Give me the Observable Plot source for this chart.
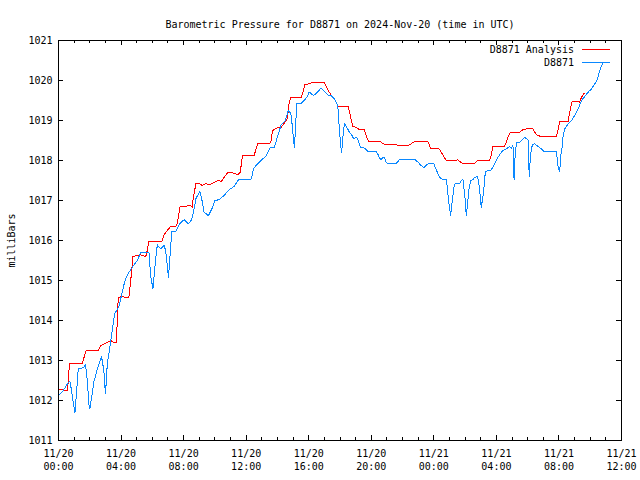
<!DOCTYPE html>
<html>
<head>
<meta charset="utf-8">
<script src="https://cdn.jsdelivr.net/npm/d3@7"></script>
<script src="https://cdn.jsdelivr.net/npm/@observablehq/plot@0.6"></script>
<style>
  html, body { margin: 0; padding: 0; background: #fff; }
  #wrap { position: relative; width: 640px; height: 480px; font-family: "DejaVu Sans Mono", monospace; font-size: 10px; color: #000; }
  .lg-text { position: absolute; right: 66px; line-height: 12px; white-space: pre; }
  .lg-line { position: absolute; left: 582px; width: 28px; height: 1px; }
</style>
</head>
<body>
<div id="wrap"></div>
<script>
// ---- data (hours after 2024-11-20 00:00 UTC, pressure in mb) ----
const titleText = "Barometric Pressure for D8871 on 2024-Nov-20 (time in UTC)";
const yLabel = "milliBars";
const seriesNames = ["D8871 Analysis", "D8871"];
const seriesColors = ["#ff0000", "#0a88ff"];

const analysisHours = [
  0.00, 0.28, 0.40, 0.56, 0.62, 0.70, 1.52, 1.77, 2.54, 2.69,
  3.01, 3.33, 3.59, 3.70, 3.82, 4.08, 4.29, 4.50, 4.61, 4.76,
  5.25, 5.53, 5.62, 5.78, 6.60, 6.75, 7.17, 7.50, 7.60, 7.77,
  8.46, 8.56, 8.60, 8.78, 9.03, 9.20, 9.42, 9.64, 9.85, 10.21,
  10.42, 10.59, 10.81, 11.13, 11.30, 11.49, 11.62, 11.77, 12.51, 12.73,
  13.47, 13.58, 13.69, 14.01, 14.22, 14.33, 14.61, 14.69, 14.75, 14.86,
  15.50, 15.61, 15.76, 16.03, 16.25, 16.99, 17.10, 17.31, 17.53, 17.64,
  17.81, 17.89, 18.53, 18.64, 18.75, 18.81, 19.03, 19.24, 19.56, 19.67,
  19.82, 20.58, 20.74, 20.88, 21.59, 21.70, 22.38, 22.55, 22.72, 22.87,
  23.62, 23.79, 24.30, 24.47, 24.79, 25.43, 25.54, 25.64, 25.86, 26.57,
  26.71, 26.82, 27.57, 27.67, 27.78, 28.53, 28.64, 28.74, 28.89, 29.49,
  29.70, 29.92, 30.35, 30.45, 30.56, 30.77, 30.99, 31.84, 31.95, 32.05,
  32.59, 32.69, 32.84, 33.18, 33.33, 33.44, 33.61
];
const analysisValues = [
  1012.28, 1012.28, 1012.25, 1012.25, 1012.46, 1012.93, 1012.93, 1013.25, 1013.25, 1013.375,
  1013.43, 1013.50, 1013.44, 1013.44, 1014.58, 1014.60, 1014.57, 1014.58, 1014.96, 1015.60,
  1015.64, 1015.60, 1015.64, 1015.975, 1015.975, 1016.15, 1016.35, 1016.35, 1016.43, 1016.85,
  1016.87, 1016.83, 1017.00, 1017.42, 1017.42, 1017.375, 1017.42, 1017.40, 1017.43, 1017.50,
  1017.475, 1017.58, 1017.69, 1017.69, 1017.67, 1017.65, 1017.71, 1018.125, 1018.125, 1018.42,
  1018.42, 1018.46, 1018.75, 1018.82, 1018.82, 1018.875, 1019.04, 1019.21, 1019.46, 1019.57,
  1019.57, 1019.67, 1019.90, 1019.92, 1019.96, 1019.96, 1019.875, 1019.71, 1019.58, 1019.54,
  1019.42, 1019.35, 1019.35, 1019.17, 1018.96, 1018.85, 1018.83, 1018.775, 1018.775, 1018.625,
  1018.475, 1018.475, 1018.42, 1018.40, 1018.40, 1018.375, 1018.375, 1018.42, 1018.46, 1018.475,
  1018.475, 1018.31, 1018.31, 1018.21, 1018.00, 1018.00, 1018.02, 1017.98, 1017.92, 1017.92,
  1017.975, 1018.00, 1018.00, 1018.125, 1018.36, 1018.36, 1018.46, 1018.58, 1018.71, 1018.71,
  1018.77, 1018.79, 1018.79, 1018.71, 1018.64, 1018.61, 1018.60, 1018.60, 1018.77, 1018.975,
  1018.975, 1019.21, 1019.475, 1019.475, 1019.46, 1019.58, 1019.68
];

const obsHours = [
  0.00, 0.30, 0.55, 0.70, 0.75, 0.92, 1.05, 1.13, 1.26, 1.41,
  1.62, 1.73, 1.84, 1.94, 2.00, 2.16, 2.26, 2.37, 2.52, 2.69,
  2.75, 2.90, 2.97, 3.01, 3.12, 3.27, 3.37, 3.48, 3.59, 3.69,
  3.80, 3.90, 4.00, 4.12, 4.22, 4.33, 4.48, 4.65, 4.80, 5.04,
  5.25, 5.79, 5.89, 6.04, 6.21, 6.32, 6.53, 6.75, 6.85, 6.96,
  7.03, 7.11, 7.24, 7.50, 7.71, 8.03, 8.31, 8.52, 8.67, 8.78,
  9.03, 9.14, 9.31, 9.59, 9.85, 10.01, 10.27, 10.59, 10.91, 11.23,
  11.51, 11.77, 12.30, 12.41, 12.47, 12.62, 12.94, 13.26, 13.41, 13.54,
  13.79, 13.90, 14.01, 14.11, 14.22, 14.33, 14.50, 14.61, 14.69, 14.86,
  14.97, 15.03, 15.09, 15.16, 15.24, 15.50, 15.71, 15.88, 16.03, 16.31,
  16.57, 16.78, 16.99, 17.21, 17.42, 17.63, 17.81, 17.89, 17.93, 18.02,
  18.07, 18.11, 18.17, 18.24, 18.30, 18.43, 18.60, 18.77, 18.88, 19.03,
  19.13, 19.24, 19.30, 19.56, 19.78, 20.31, 20.41, 20.52, 20.63, 20.74,
  20.84, 20.95, 21.06, 21.59, 21.80, 22.81, 22.98, 23.19, 23.36, 23.51,
  23.66, 24.00, 24.09, 24.22, 24.30, 24.47, 24.79, 24.86, 24.94, 25.00,
  25.07, 25.16, 25.28, 25.37, 25.64, 25.75, 25.86, 25.92, 26.01, 26.07,
  26.16, 26.22, 26.35, 26.50, 26.61, 26.78, 26.86, 26.93, 27.03, 27.12,
  27.21, 27.29, 27.46, 27.63, 27.78, 27.93, 28.10, 28.27, 28.42, 28.64,
  28.85, 28.96, 29.06, 29.13, 29.17, 29.28, 29.49, 29.64, 29.81, 29.98,
  30.07, 30.09, 30.13, 30.20, 30.30, 30.45, 30.67, 30.88, 31.05, 31.84,
  31.95, 32.05, 32.12, 32.20, 32.27, 32.37, 32.59, 32.80, 33.01, 33.23,
  33.44, 33.65, 33.87, 34.08, 34.30, 34.45, 34.57, 34.72, 34.83
];
const obsValues = [
  1012.12, 1012.25, 1012.40, 1012.48, 1012.46, 1012.00, 1011.69, 1012.08, 1012.79, 1012.79,
  1012.83, 1012.89, 1012.50, 1011.92, 1011.79, 1012.17, 1012.46, 1012.625, 1012.83, 1013.04,
  1013.10, 1012.75, 1012.33, 1012.18, 1012.92, 1013.29, 1013.58, 1013.875, 1014.17, 1014.23,
  1014.31, 1014.40, 1014.58, 1014.79, 1014.95, 1015.08, 1015.19, 1015.29, 1015.375, 1015.50,
  1015.69, 1015.69, 1015.125, 1014.79, 1015.54, 1015.89, 1015.79, 1015.875, 1015.75, 1015.375,
  1015.08, 1015.50, 1016.225, 1016.225, 1016.40, 1016.52, 1016.42, 1016.52, 1016.79, 1017.04,
  1017.225, 1017.08, 1016.71, 1016.62, 1016.83, 1017.00, 1017.02, 1017.125, 1017.27, 1017.35,
  1017.52, 1017.525, 1017.525, 1017.67, 1017.79, 1017.875, 1018.00, 1018.11, 1018.225, 1018.32,
  1018.33, 1018.46, 1018.60, 1018.725, 1018.875, 1018.93, 1019.00, 1019.125, 1019.25, 1019.17,
  1018.79, 1018.50, 1018.32, 1018.875, 1019.42, 1019.42, 1019.50, 1019.58, 1019.71, 1019.625,
  1019.71, 1019.81, 1019.73, 1019.64, 1019.625, 1019.54, 1019.42, 1019.25, 1018.96, 1018.50,
  1018.29, 1018.21, 1018.54, 1018.79, 1018.92, 1018.83, 1018.71, 1018.625, 1018.54, 1018.58,
  1018.54, 1018.42, 1018.33, 1018.31, 1018.225, 1018.225, 1018.17, 1018.06, 1018.025, 1018.07,
  1018.08, 1017.96, 1017.92, 1017.92, 1018.02, 1018.02, 1017.96, 1017.875, 1017.82, 1017.875,
  1017.93, 1017.93, 1017.82, 1017.71, 1017.625, 1017.54, 1017.52, 1017.33, 1017.00, 1016.83,
  1016.625, 1016.92, 1017.33, 1017.42, 1017.42, 1017.50, 1017.525, 1017.33, 1017.00, 1016.625,
  1016.92, 1017.21, 1017.50, 1017.525, 1017.58, 1017.60, 1017.50, 1017.25, 1016.83, 1017.04,
  1017.33, 1017.71, 1017.75, 1017.75, 1017.83, 1017.96, 1018.08, 1018.18, 1018.25, 1018.29,
  1018.35, 1018.31, 1018.38, 1017.52, 1017.96, 1018.46, 1018.46, 1018.52, 1018.58, 1018.525,
  1018.50, 1017.60, 1017.83, 1018.17, 1018.40, 1018.42, 1018.35, 1018.29, 1018.225, 1018.225,
  1017.83, 1017.725, 1018.125, 1018.33, 1018.64, 1018.79, 1018.92, 1019.00, 1019.125, 1019.29,
  1019.50, 1019.60, 1019.71, 1019.79, 1019.92, 1020.02, 1020.21, 1020.375, 1020.44
];

const yTicks = [1011, 1012, 1013, 1014, 1015, 1016, 1017, 1018, 1019, 1020, 1021];
const xTickHours = [0, 4, 8, 12, 16, 20, 24, 28, 32, 36];
const xTickLabels = [
  "11/20\n00:00", "11/20\n04:00", "11/20\n08:00", "11/20\n12:00", "11/20\n16:00",
  "11/20\n20:00", "11/21\n00:00", "11/21\n04:00", "11/21\n08:00", "11/21\n12:00"
];

// ---- build ----
const start = Date.UTC(2024, 10, 20, 0, 0);
const toDate = h => new Date(start + h * 3600e3);
const analysis = analysisHours.map((h, i) => ({t: toDate(h), p: analysisValues[i]}));
const obs = obsHours.map((h, i) => ({t: toDate(h), p: obsValues[i]}));
const tickDates = xTickHours.map(toDate);
const hourDates = d3.range(0, 37).map(toDate);
const labelByTime = new Map(tickDates.map((d, i) => [+d, xTickLabels[i]]));

const W = 640, H = 480, mL = 58, mR = 19, mT = 40, mB = 40;
const fw = W - mL - mR, fh = H - mT - mB;
const minorLen = 3, majorLen = 5;

const chart = Plot.plot({
  width: W, height: H,
  marginLeft: mL, marginRight: mR, marginTop: mT, marginBottom: mB,
  style: {fontFamily: "'DejaVu Sans Mono', monospace", fontSize: "10px", background: "#fff", color: "#000", overflow: "visible"},
  x: {type: "utc", domain: [toDate(0), toDate(36)]},
  y: {domain: [1011, 1021]},
  marks: [
    // inward ticks on all four sides
    Plot.tickX(hourDates, {x: d => d, insetTop: fh - minorLen, stroke: "#000", shapeRendering: "crispEdges"}),
    Plot.tickX(hourDates, {x: d => d, insetBottom: fh - minorLen, stroke: "#000", shapeRendering: "crispEdges"}),
    Plot.tickX(tickDates, {x: d => d, insetTop: fh - majorLen, stroke: "#000", shapeRendering: "crispEdges"}),
    Plot.tickX(tickDates, {x: d => d, insetBottom: fh - majorLen, stroke: "#000", shapeRendering: "crispEdges"}),
    Plot.tickY(yTicks, {y: d => d, insetRight: fw - majorLen, stroke: "#000", shapeRendering: "crispEdges"}),
    Plot.tickY(yTicks, {y: d => d, insetLeft: fw - majorLen, stroke: "#000", shapeRendering: "crispEdges"}),
    Plot.axisY({
      ticks: yTicks, tickSize: 0, tickPadding: 6, tickFormat: d => String(d),
      label: yLabel, labelAnchor: "center", labelArrow: "none", labelOffset: 51
    }),
    Plot.axisX({
      ticks: tickDates, tickSize: 0, tickPadding: 8, lineHeight: 1.25,
      tickFormat: d => labelByTime.get(+d), label: null
    }),
    Plot.line(analysis, {x: "t", y: "p", stroke: seriesColors[0], strokeWidth: 1, shapeRendering: "crispEdges"}),
    Plot.line(obs, {x: "t", y: "p", stroke: seriesColors[1], strokeWidth: 1, shapeRendering: "crispEdges"}),
    Plot.frame({stroke: "#000", shapeRendering: "crispEdges"}),
    Plot.text([titleText], {frameAnchor: "top", dy: -20, fontSize: 10})
  ]
});

const wrap = document.getElementById("wrap");
wrap.appendChild(chart);

// legend overlay (top-right, inside frame)
const legendRows = [{y: 49}, {y: 62}];
seriesNames.forEach((name, i) => {
  const t = document.createElement("div");
  t.className = "lg-text";
  t.style.top = (legendRows[i].y - 5) + "px";
  t.textContent = name;
  wrap.appendChild(t);
  const l = document.createElement("div");
  l.className = "lg-line";
  l.style.top = legendRows[i].y + "px";
  l.style.background = seriesColors[i];
  wrap.appendChild(l);
});
</script>
</body>
</html>
